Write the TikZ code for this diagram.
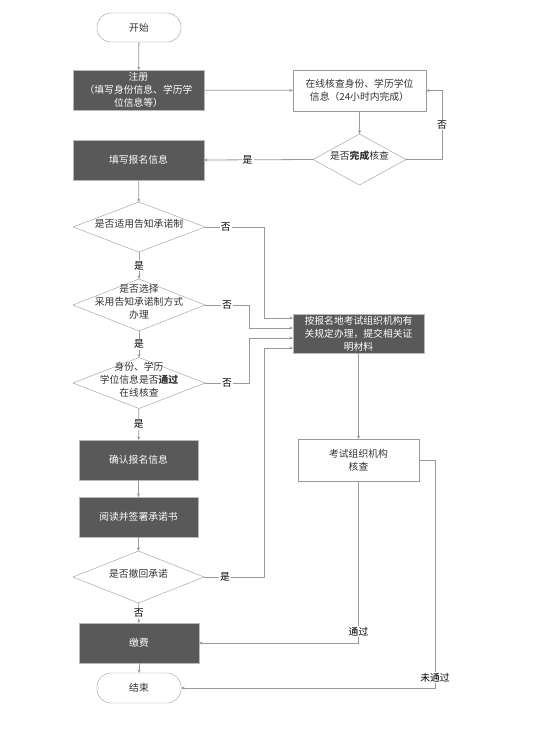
\documentclass[tikz,border=0pt]{standalone}
\usepackage{fontspec}
\setmainfont{Noto Sans CJK SC}
\usetikzlibrary{shapes.geometric,arrows.meta,calc}
\definecolor{lineg}{HTML}{9A9A9A}
\definecolor{darkf}{HTML}{595959}
\definecolor{txt}{HTML}{333333}
\newcommand{\zc}[1]{\makebox[0pt]{\smash{\begin{tabular}{@{}c@{}}#1\end{tabular}}}}
\begin{document}
\begin{tikzpicture}[x=1pt,y=-1pt,
  font=\fontsize{9.8}{13}\selectfont,
  every node/.style={inner sep=0pt, outer sep=0pt},
  darkbox/.style={rectangle, draw=lineg!70, fill=darkf, text=white, align=center},
  whitebox/.style={rectangle, draw=lineg, fill=white, text=txt, align=center},
  term/.style={rectangle, rounded corners=14pt, draw=lineg, fill=white, text=txt, minimum width=84pt, minimum height=29pt},
  dia/.style={diamond, draw=lineg, fill=white, text=txt},
  lbl/.style={fill=white, text=black, inner sep=1pt},
  conn/.style={draw=lineg, line width=0.8pt, -{Stealth[length=3.5pt,width=3pt]}},
  plain/.style={draw=lineg, line width=0.8pt}
]
\useasboundingbox (0,0) rectangle (534,732);
\fill[white] (0,0) rectangle (534,732);

% nodes
\node[term] (start) at (139,27.5) {开始};
\node[darkbox, minimum width=131pt, minimum height=40pt] (reg) at (138.5,90) {注册\\（填写身份信息、学历学\\位信息等）};
\node[whitebox, minimum width=133pt, minimum height=41pt] (chk) at (359.5,90.5) {在线核查身份、学历学位\\信息（24小时内完成）};
\node[dia, minimum width=93pt, minimum height=51pt] (d0) at (359.5,159.5) {\zc{是否\textbf{完成}核查}};
\node[darkbox, minimum width=131pt, minimum height=40pt] (fill) at (138.5,160) {填写报名信息};
\node[dia, minimum width=132pt, minimum height=50pt] (d1) at (139,227) {\zc{是否适用告知承诺制}};
\node[dia, minimum width=132pt, minimum height=52pt] (d2) at (139,305) {\zc{是否选择\\采用告知承诺制方式\\办理}};
\node[dia, minimum width=132pt, minimum height=51pt] (d3) at (139,383) {\zc{身份、学历\\学位信息是否\textbf{通过}\\在线核查}};
\node[darkbox, minimum width=119pt, minimum height=40pt] (conf) at (138.5,460) {确认报名信息};
\node[darkbox, minimum width=119pt, minimum height=40pt] (read) at (138.5,517) {阅读并签署承诺书};
\node[dia, minimum width=131pt, minimum height=52pt] (d4) at (138.5,577) {\zc{是否撤回承诺}};
\node[darkbox, minimum width=120pt, minimum height=40pt] (pay) at (139,643) {缴费};
\node[term, minimum height=30pt] (end) at (139,688) {结束};
\node[darkbox, minimum width=131pt, minimum height=39pt] (proc) at (358.5,333.5) {按报名地考试组织机构有\\关规定办理，提交相关证\\明材料};
\node[whitebox, minimum width=121pt, minimum height=42pt] (org) at (358.5,460) {考试组织机构\\核查};

% helper coordinates
\coordinate (in1) at (proc.west |- 0,318);
\coordinate (in2) at (proc.west |- 0,328);
\coordinate (in3) at (proc.west |- 0,338);
\coordinate (in4) at (proc.west |- 0,348);

% connectors
\draw[conn] (start) -- (reg);
\draw[conn] (reg) -- (chk);
\draw[conn] (chk) -- (d0);
\draw[conn] (d0.east) -- (442,159.5) |- (chk.east) node[lbl, pos=0.25] {否};
\draw[conn] (d0.west) -- node[lbl, pos=0.6] {是} (fill.east);
\draw[conn] (fill) -- (d1);
\draw[conn] (d1.east) -- node[lbl, pos=0.35] {否} (264,227) |- (in1);
\draw[conn] (d1) -- node[lbl] {是} (d2);
\draw[conn] (d2.east) -- node[lbl, pos=0.5] {否} (249,305) |- (in2);
\draw[conn] (d2) -- node[lbl] {是} (d3);
\draw[conn] (d3.east) -- node[lbl, pos=0.5] {否} (249,383) |- (in3);
\draw[conn] (d3) -- node[lbl] {是} (conf);
\draw[conn] (conf) -- (read);
\draw[conn] (read) -- (d4);
\draw[conn] (d4.east) -- node[lbl, pos=0.35] {是} (264,577) |- (in4);
\draw[conn] (d4) -- node[lbl] {否} (pay);
\draw[conn] (pay) -- (end);
\draw[conn] (proc) -- (org);
\draw[conn] (org.south) -- (358.5,643) node[lbl, pos=0.93] {通过} -- (pay.east);
\draw[conn] (org.east) -- (435,460) |- (end.east) node[lbl, pos=0.478] {未通过};
\end{tikzpicture}
\end{document}
